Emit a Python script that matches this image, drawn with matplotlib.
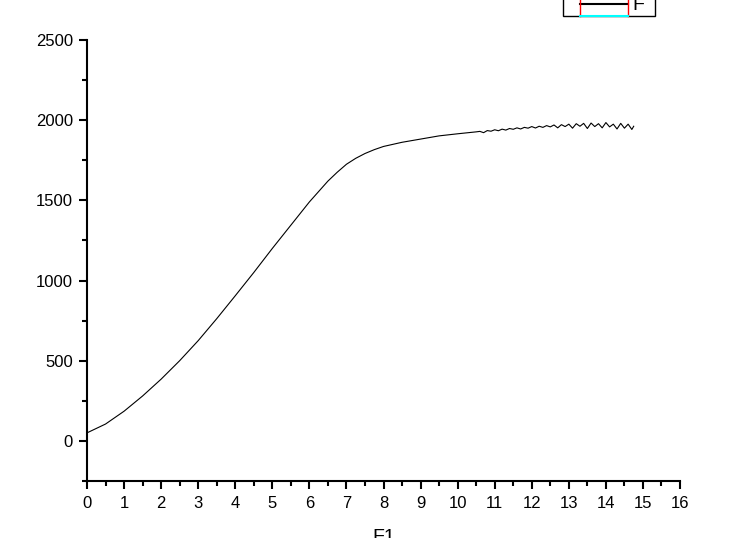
import matplotlib
matplotlib.use("Agg")
import matplotlib.pyplot as plt
from matplotlib.lines import Line2D
from matplotlib.patches import Rectangle
from matplotlib.ticker import MultipleLocator

plt.rcParams['font.family'] = ['Liberation Sans', 'DejaVu Sans']

# curve
F1 = [0, 0.5, 1, 1.5, 2, 2.5, 3, 3.5, 4, 4.5, 5, 5.5, 6, 6.25, 6.5, 6.75, 7,
      7.25, 7.5, 7.75, 8, 8.5, 9, 9.5, 10, 10.5,
      10.6, 10.7, 10.8, 10.9, 11.0, 11.1, 11.2, 11.3, 11.4, 11.5, 11.6, 11.7,
      11.8, 11.9, 12.0, 12.1, 12.2, 12.3, 12.4, 12.5, 12.6, 12.7, 12.8, 12.9,
      13.0, 13.1, 13.2, 13.3, 13.4, 13.5, 13.6, 13.7, 13.8, 13.9, 14.0, 14.1,
      14.2, 14.3, 14.4, 14.5, 14.6, 14.7, 14.75]
F = [50, 105, 185, 280, 385, 500, 625, 762, 905, 1050, 1200, 1345, 1490, 1555, 1620, 1675, 1725,
     1762, 1792, 1816, 1836, 1862, 1882, 1902, 1915, 1927,
     1930, 1922, 1935, 1931, 1940, 1934, 1944, 1938, 1948, 1943, 1952, 1945,
     1955, 1950, 1960, 1951, 1962, 1955, 1966, 1958, 1970, 1952, 1972, 1960,
     1975, 1950, 1978, 1962, 1980, 1948, 1982, 1960, 1978, 1952, 1985, 1958,
     1975, 1945, 1980, 1950, 1975, 1942, 1962]

fig = plt.figure(figsize=(7.5, 5.38), dpi=100)
ax = fig.add_axes([0.116, 0.106, 0.7907, 0.8197])

line, = ax.plot(F1, F, color='black', linewidth=0.8)

ax.set_xlim(0, 16)
ax.set_ylim(-250, 2500)
ax.xaxis.set_major_locator(MultipleLocator(1))
ax.xaxis.set_minor_locator(MultipleLocator(0.5))
ax.yaxis.set_major_locator(MultipleLocator(500))
ax.yaxis.set_minor_locator(MultipleLocator(250))

for s in ['top', 'right']:
    ax.spines[s].set_visible(False)
for s in ['left', 'bottom']:
    ax.spines[s].set_linewidth(1.5)

ax.tick_params(which='major', direction='out', length=6, width=1.5, labelsize=12)
ax.tick_params(axis='x', which='major', pad=4.5)
ax.tick_params(axis='y', which='major', pad=4)
ax.tick_params(which='minor', direction='out', length=3.5, width=1.5)

ax.set_xlabel('F1', fontsize=14, labelpad=13)
ax.set_ylabel('F', fontsize=14)
ax.yaxis.set_label_coords(-0.165, 0.5)

# legend box, cut off at the top of the picture
W, H = 750.0, 538.0
fig.add_artist(Rectangle((563 / W, 1 - 16 / H), 92 / W, 30 / H, transform=fig.transFigure,
                         facecolor='white', edgecolor='black', linewidth=1))
fig.add_artist(Line2D([580 / W, 628 / W], [1 - 4 / H, 1 - 4 / H], transform=fig.transFigure,
                      color=line.get_color(), linewidth=1.5))
fig.add_artist(Line2D([580 / W, 580 / W], [1 - 16 / H, 1.0], transform=fig.transFigure,
                      color='red', linewidth=1))
fig.add_artist(Line2D([628 / W, 628 / W], [1 - 16 / H, 1.0], transform=fig.transFigure,
                      color='red', linewidth=1))
fig.add_artist(Line2D([580 / W, 628 / W], [1 - 16 / H, 1 - 16 / H], transform=fig.transFigure,
                      color='cyan', linewidth=1.5))
fig.text(632 / W, 1 - 14 / H, 'F', fontsize=14, ha='left', va='bottom')

fig.savefig('out.png', dpi=100)
